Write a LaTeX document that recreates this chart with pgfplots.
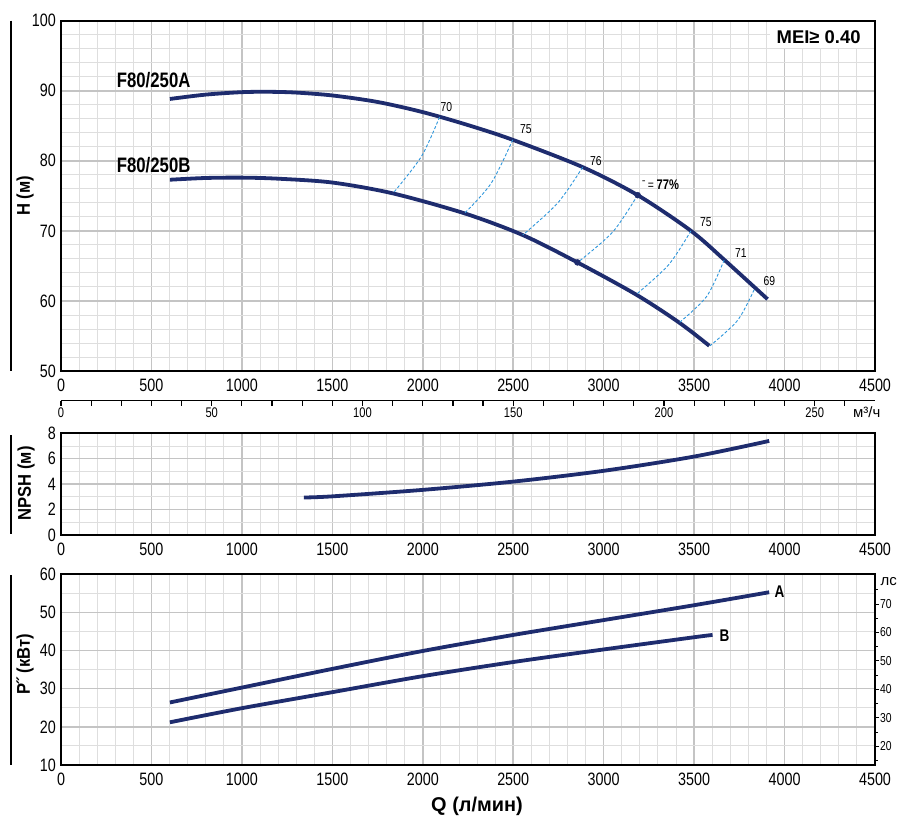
\documentclass[border=0pt]{standalone}
\usepackage{fontspec}
\setmainfont{Liberation Sans}
\newfontfamily\cond{Liberation Sans}[FakeStretch=0.8]
\newfontfamily\condlab{Liberation Sans}[FakeStretch=0.9]
\usepackage{pgfplots}
\pgfplotsset{compat=1.18}
\definecolor{navy}{RGB}{30,44,110}
\definecolor{effc}{RGB}{45,150,220}
\definecolor{gmaj}{RGB}{196,196,196}
\definecolor{gmin}{RGB}{222,222,222}
\pgfplotsset{
  base/.style={scale only axis, width=814bp, xmin=0, xmax=4500,
    xtick={0,500,...,4500}, minor x tick num=4,
    grid=both, major grid style={draw=gmaj, line width=1.5bp},
    minor grid style={draw=gmin, line width=0.9bp},
    axis line style={line width=2bp, black},
    major tick length=0pt, minor tick length=0pt,
    tick label style={font=\cond\fontsize{18}{20}\selectfont},
    /pgf/number format/assume math mode=true, /pgf/number format/1000 sep={},
    xticklabel style={yshift=-4bp}, yticklabel style={inner sep=5bp},
  },
  curve/.style={navy, line width=3.8bp, smooth, no marks},
  eff/.style={effc, line width=0.9bp, dash pattern=on 3bp off 2bp, smooth, no marks},
}
\begin{document}
\begin{tikzpicture}
\useasboundingbox (0,0) rectangle (899bp,-816bp);
% ---------------- H axis
\begin{axis}[base, height=350.3bp, at={(61bp,-20.7bp)}, anchor=north west,
  ymin=50, ymax=100, ytick={50,60,...,100}, minor y tick num=4]
\addplot[curve] coordinates {(602,88.83) (800,89.45) (1000,89.8) (1150,89.85) (1300,89.74) (1500,89.33) (1750,88.4) (2000,86.95) (2250,85.1) (2497,83.0) (2884,79.1) (3188,75.1) (3483,70.0) (3670,65.8) (3906,60.25)};
\addplot[curve] coordinates {(602,77.3) (800,77.55) (1000,77.6) (1200,77.45) (1500,76.9) (1835,75.35) (2231,72.5) (2553,69.4) (2855,65.5) (3180,60.9) (3418,56.9) (3584,53.6)};
\addplot[eff] coordinates {(2093,86.25) (1991.6,80.59) (1834.8,75.35)};
\addplot[eff] coordinates {(2497.4,83.0) (2378,76.79) (2230.7,72.5)};
\addplot[eff] coordinates {(2884,79.1) (2745.9,73.98) (2552.6,69.4)};
\addplot[eff] coordinates {(3187.6,75.1) (3049.5,69.82) (2856.3,65.5)};
\addplot[eff] coordinates {(3482.4,70.0) (3358.2,65.13) (3178.7,60.9)};
\addplot[eff] coordinates {(3666.3,65.85) (3569.7,60.66) (3417.8,56.9)};
\addplot[eff] coordinates {(3832,61.6) (3740,57.21) (3588,53.6)};
\addplot[only marks, mark=*, mark size=3bp, navy] coordinates {(3188,75.1) (2855,65.5)};
\end{axis}
\fill[white] (770bp,-21.7bp) rectangle (874bp,-48bp);
\node[anchor=base west, inner sep=0pt, font=\bfseries\fontsize{18.5}{20}\selectfont] at (776.5bp,-43.3bp) {MEI≥ 0.40};
\node[anchor=base west, inner sep=0pt, font=\cond\bfseries\fontsize{21}{22}\selectfont] at (116.7bp,-87.3bp) {F80/250A};
\node[anchor=base west, inner sep=0pt, font=\cond\bfseries\fontsize{21}{22}\selectfont] at (116.7bp,-172.7bp) {F80/250B};
\begin{scope}[every node/.style={anchor=base west, inner sep=0pt, font=\cond\fontsize{13}{14}\selectfont}]
\node at (440.5bp,-111.7bp) {70};
\node at (520bp,-133.3bp) {75};
\node at (590bp,-165bp) {76};
\node at (642bp,-189.3bp) {ˉ\,= {\fontsize{14}{15}\selectfont\bfseries 77\%}};
\node at (700bp,-226.7bp) {75};
\node at (735bp,-257.3bp) {71};
\node at (763.3bp,-285.7bp) {69};
\end{scope}
% ---------------- m3/h scale
\begin{axis}[scale only axis, width=814bp, height=5bp, at={(61bp,-400.7bp)}, anchor=south west,
  xmin=0, xmax=270, ymin=0, ymax=1, axis y line=none, axis x line*=bottom,
  xtick={0,50,...,250}, minor xtick={10,20,...,260}, tick align=outside,
  major tick length=5bp, minor tick length=5bp,
  x axis line style={line width=1.2bp, black},
  tick style={line width=1.2bp, black},
  xticklabel style={font=\cond\fontsize{14}{15}\selectfont, inner sep=1bp, yshift=-1bp},
  /pgf/number format/assume math mode=true]
\addplot[draw=none] coordinates {(0,0)};
\end{axis}
\node[anchor=base west, inner sep=0pt, font=\fontsize{15}{16}\selectfont] at (853bp,-417bp) {м³/ч};
% ---------------- NPSH
\begin{axis}[base, height=101.7bp, at={(61bp,-433.3bp)}, anchor=north west,
  ymin=0, ymax=8, ytick={0,2,...,8}, minor y tick num=1]
\addplot[curve] coordinates {(1343,2.95) (1500,3.04) (2000,3.55) (2500,4.2) (3000,5.05) (3500,6.17) (3915,7.4)};
\end{axis}
% ---------------- Power
\begin{axis}[base, height=190.7bp, at={(61bp,-574.3bp)}, anchor=north west,
  ymin=10, ymax=60, ytick={10,20,...,60}, minor y tick num=1]
\addplot[curve] coordinates {(602,26.4) (1000,30.3) (1500,35.2) (2000,39.9) (2500,44.1) (3000,48.0) (3500,51.9) (3915,55.3)};
\addplot[curve] coordinates {(602,21.2) (1000,24.9) (1500,29.1) (2000,33.3) (2500,37.0) (3000,40.3) (3500,43.5) (3602,44.1)};
\end{axis}
\begin{axis}[scale only axis, width=814bp, height=190.7bp, at={(61bp,-574.3bp)}, anchor=north west,
  xmin=0, xmax=4500, ymin=13.41, ymax=80.46, axis x line=none, axis y line*=right,
  ytick={20,30,...,70}, minor ytick={15,25,...,75}, tick align=outside,
  major tick length=4bp, minor tick length=3bp,
  y axis line style={line width=2bp, black}, tick style={line width=1bp, black},
  yticklabel style={font=\cond\fontsize{13}{14}\selectfont, anchor=west, inner sep=1bp},
  /pgf/number format/assume math mode=true]
\addplot[draw=none] coordinates {(1000,30)};
\end{axis}
\node[anchor=base west, inner sep=0pt, font=\fontsize{15}{16}\selectfont] at (880.5bp,-585bp) {лс};
\node[anchor=base west, inner sep=0pt, font=\cond\bfseries\fontsize{17}{18}\selectfont] at (774.5bp,-597.3bp) {A};
\node[anchor=base west, inner sep=0pt, font=\cond\bfseries\fontsize{17}{18}\selectfont] at (719.5bp,-641bp) {B};
% ---------------- axis titles
\node[anchor=base, inner sep=0pt, font=\bfseries\fontsize{20}{22}\selectfont] at (477bp,-811bp) {Q (л/мин)};
\node[rotate=90, inner sep=0pt, font=\condlab\bfseries\fontsize{18.5}{20}\selectfont] at (25bp,-196bp) {H (м)};
\node[rotate=90, inner sep=0pt, font=\condlab\bfseries\fontsize{18.5}{20}\selectfont] at (26bp,-483.3bp) {NPSH (м)};
\node[rotate=90, inner sep=0pt, font=\condlab\bfseries\fontsize{18.5}{20}\selectfont] at (25bp,-664bp) {P˝ (кВт)};
\draw[line width=1.3bp] (11bp,-20.7bp) -- (11bp,-371bp);
\draw[line width=1.3bp] (11bp,-435bp) -- (11bp,-534bp);
\draw[line width=1.3bp] (11bp,-575bp) -- (11bp,-765bp);
\end{tikzpicture}
\end{document}
